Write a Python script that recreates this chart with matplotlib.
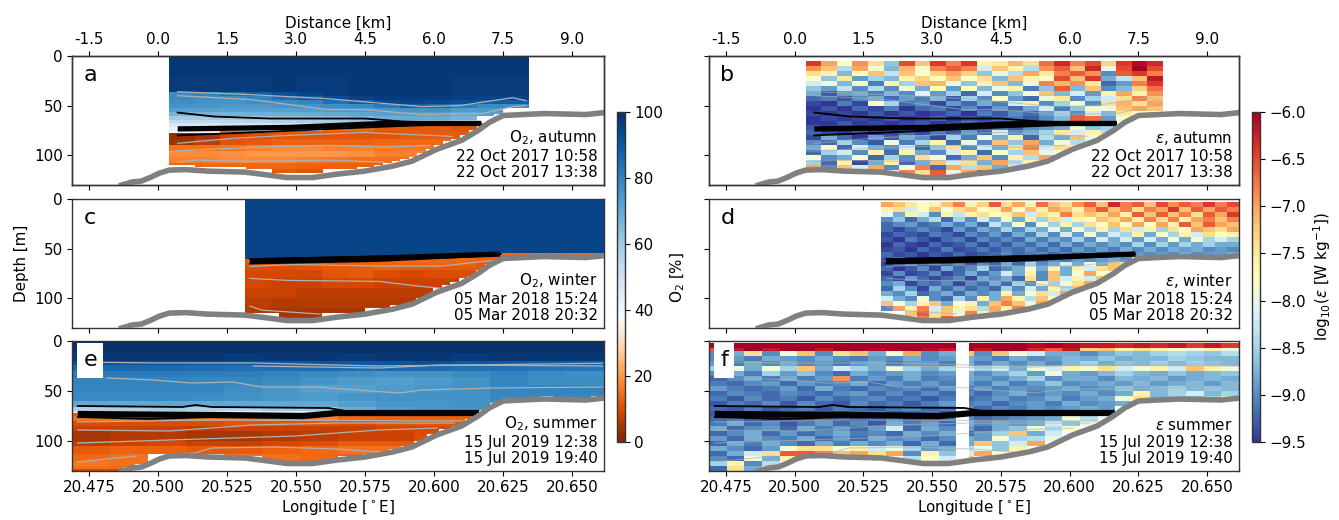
import numpy as np
import matplotlib
matplotlib.use('Agg')
import matplotlib.pyplot as plt
from matplotlib.colors import ListedColormap, Normalize
from matplotlib.cm import ScalarMappable
from matplotlib.patches import Rectangle

nan = np.nan

# seabed along the section
bathy_lon = [20.4868, 20.4905, 20.494, 20.4975, 20.5005, 20.504, 20.510, 20.518, 20.5315, 20.540, 20.5467, 20.556, 20.565, 20.575, 20.585, 20.592, 20.601, 20.610, 20.616, 20.620, 20.625, 20.632, 20.640, 20.655, 20.662]
bathy_dep = [130, 127, 126, 122, 118, 115, 114.5, 116, 117, 120, 122.5, 122.5, 119, 116, 111, 106, 94, 85, 75, 67, 60, 59, 58, 59, 57]

# contour lines, (lon, depth)
autumn_gray = [
    ([20.5071, 20.5339, 20.5613, 20.5956, 20.6093, 20.6285, 20.6333], [36, 39, 43, 51, 50, 42, 45]),
    ([20.5071, 20.5339, 20.5613, 20.575, 20.5956, 20.6175, 20.6285, 20.6333], [40, 44, 54, 54, 59, 58, 51, 50]),
    ([20.5071, 20.527, 20.5476, 20.575, 20.6065], [88, 83, 80, 77, 81]),
    ([20.5044, 20.5339, 20.5613, 20.5818, 20.5983], [96, 92, 90, 92, 90]),
    ([20.5071, 20.5133, 20.5339, 20.5613, 20.5818], [107, 105, 106, 105, 107]),
]
autumn_black = [
    ([20.5071, 20.5202, 20.5407, 20.575, 20.5887, 20.6024], [57, 61, 63, 63, 66, 67]),
    ([20.5071, 20.5339, 20.575, 20.6024], [80, 77, 72, 69]),
]
autumn_thick = ([20.5071, 20.5476, 20.5818, 20.6172], [73.5, 72, 68, 68])

winter_gray = [
    ([20.5333, 20.5497, 20.58, 20.6027, 20.6209], [68, 66, 67.6, 67.6, 62]),
    ([20.5333, 20.5467, 20.58, 20.5951, 20.6027], [80, 82, 83, 88, 90]),
    ([20.5333, 20.5376, 20.5588], [108, 112, 116]),
]
winter_black = [
    ([20.5333, 20.58, 20.6239], [60.5, 58, 55.5]),
    ([20.5333, 20.58, 20.6209], [65, 62.5, 57]),
]
winter_thick = ([20.5333, 20.58, 20.6239], [62.5, 59.5, 55.5])

summer_gray = [
    ([20.4709, 20.4997, 20.5345, 20.58, 20.6103, 20.661], [21, 22, 22, 25, 24, 22.3]),
    ([20.5345, 20.58, 20.6027, 20.661], [25, 27, 24, 25]),
    ([20.4815, 20.4982, 20.5118, 20.527, 20.5376, 20.5573, 20.5876, 20.5951, 20.6224, 20.661], [37, 39, 42, 41, 46, 46, 52, 49, 47, 46]),
    ([20.4709, 20.5194, 20.6103], [81, 79, 80]),
    ([20.4709, 20.5042, 20.5345, 20.5648, 20.6073], [89, 90, 84, 82, 82]),
    ([20.4709, 20.5042, 20.5497, 20.58, 20.6012], [102, 99, 95, 89, 87]),
    ([20.4709, 20.4921], [121, 115]),
    ([20.5042, 20.5133, 20.5194, 20.5421, 20.5648, 20.58], [113, 112, 107, 106, 108, 111]),
]
summer_black = [
    ([20.4709, 20.5088, 20.5136, 20.5194, 20.5618, 20.5679, 20.577], [65, 66, 64, 66, 67, 70, 71]),
    ([20.4709, 20.4967, 20.5194, 20.5527], [76, 78, 76, 76]),
]
summer_thick = ([20.4709, 20.5194, 20.5527, 20.5648, 20.6164], [73, 74, 75, 72, 72])

# oxygen saturation [%], rows follow the depth edges, a short row keeps its last value down the slope
o2_a_lon = [20.504, 20.5133, 20.5226, 20.5319, 20.5412, 20.5505, 20.5598, 20.5691, 20.5784, 20.5877, 20.597, 20.6063, 20.6156, 20.6249, 20.6343]
o2_a_dep = [1, 20, 36, 40, 44, 48, 52, 56, 60, 64, 68, 72, 76, 78, 84, 90, 96, 102, 108, 114, 125]
o2_a = [
    [98, 98, 98, 98, 98, 98, 98, 98, 98, 98, 98, 98, 98, 98],
    [97, 97, 97, 97, 98, 97, 97, 98, 98, 98, 98, 97, 97, 97],
    [78, 80, 84, 88, 92, 95, 97, 98, 98, 98, 98, 97, 97, 97],
    [78, 77, 78, 80, 84, 89, 93, 96, 97, 97, 97, 96, 95, 95],
    [77, 76, 76, 77, 78, 80, 84, 89, 94, 95, 94, 92, 89, 88],
    [76, 75, 74, 74, 75, 76, 77, 78, 82, 88, 86, 82, 78, 77],
    [72, 72, 72, 72, 72, 73, 74, 74, 75, 76, 76, 74, 74, nan],
    [67, 67, 67, 68, 68, 69, 70, 71, 72, 72, 72, 70, 72, nan],
    [60, 60, 60, 61, 62, 63, 64, 66, 68, 69, 69, 67, nan, nan],
    [54, 54, 55, 56, 57, 58, 59, 62, 62, 60, 58, 50, nan, nan],
    [47, 47, 48, 48, 50, 52, 52, 50, 14, 12, 12, 12],
    [42, 40, 40, 40, 42, 42, 15, 14, 12, 12, 12, 11],
    [38, 36, 14, 13, 12, 12, 12, 12, 11, 12, 12],
    [3, 5, 9, 10, 11, 11, 11, 11, 11, 12, 12, 12],
    [4, 7, 11, 12, 13, 13, 13, 13, 14, 14, 14],
    [15, 15, 16, 17, 18, 18, 17, 17, 16, 16],
    [18, 18, 19, 20, 20, 20, 20, 19, 17],
    [17, 17, 18, 18, 18, 17, 16, 15, 15],
    [13, 14, 14, 14, 14, 13, 13, 13],
    [13, 13, 12, 12, 12, 11, 11],
]

o2_c_lon = [20.5315, 20.5408, 20.5501, 20.5594, 20.5687, 20.578, 20.5873, 20.5966, 20.6059, 20.6152, 20.6245, 20.6338, 20.6431, 20.6524, 20.6617]
o2_c_dep = [1, 54, 56, 58, 60, 64, 68, 72, 80, 90, 100, 110, 125]
o2_c = [
    [95, 95, 95, 95, 95, 95, 95, 95, 95, 95, 95, 95, 95, 95],
    [95, 95, 95, 95, 95, 95, 95, 95, 95, 95, 14, 14, 14, 14],
    [95, 95, 95, 95, 95, 95, 14, 14, 14, 13, 13, 13, 13, 13],
    [95, 95, 95, 13, 13, 13, 13, 14, 14, 13, 13, 13, 13, 13],
    [12, 12, 13, 13, 13, 14, 14, 14, 14, 13, 13],
    [11, 11, 12, 12, 13, 13, 13, 13, 13, 12],
    [10, 10, 11, 12, 12, 13, 12, 12, 12, 12],
    [9, 9, 9, 11, 12, 10, 9, 10, 10, 9],
    [9, 8, 8, 9, 9, 8, 8, 8, 8],
    [8, 8, 7, 7, 7, 7, 7, 7],
    [7, 6, 6, 6, 6, 6, 6],
    [6, 5, 5, 5, 5],
]

o2_e_lon = [20.4688, 20.4826, 20.4963, 20.5101, 20.5239, 20.5377, 20.5514, 20.5652, 20.579, 20.5928, 20.6065, 20.6203, 20.6341, 20.6478, 20.6616]
o2_e_dep = [1, 12, 20, 24, 30, 36, 44, 52, 60, 66, 70, 72, 75, 80, 85, 90, 100, 105, 113, 120, 125, 128, 130]
o2_e = [
    [100, 100, 100, 100, 100, 100, 100, 100, 100, 100, 100, 100, 100, 100],
    [98, 98, 98, 98, 97, 98, 98, 97, 98, 98, 97, 98, 98, 98],
    [92, 91, 92, 91, 90, 91, 91, 90, 91, 92, 90, 90, 89, 88],
    [86, 86, 86, 85, 84, 85, 85, 85, 86, 85, 84, 84, 83, 83],
    [82, 82, 82, 81, 81, 80, 78, 77, 76, 76, 78, 80, 78, 77],
    [80, 80, 80, 79, 79, 78, 76, 74, 73, 74, 76, 79, 77, 77],
    [79, 79, 79, 79, 77, 75, 73, 73, 74, 75, 76, 79, 80, 80],
    [78, 78, 78, 77, 76, 75, 74, 75, 76, 76, 76, 79],
    [70, 70, 71, 70, 70, 70, 70, 73, 75, 75, 76],
    [58, 58, 60, 58, 56, 60, 60, 68, 73, 75],
    [48, 50, 48, 46, 44, 45, 46, 20, 14, 13, 12],
    [12, 12, 12, 12, 12, 12, 12, 12, 12, 12, 12],
    [15, 15, 15, 16, 16, 17, 17, 14, 13, 13, 13],
    [10, 10, 10, 10, 11, 11, 11, 10, 11, 11, 11],
    [8, 8, 8, 7, 8, 8, 8, 8, 9, 9],
    [5, 6, 6, 5, 5, 6, 7, 8, 8, 10],
    [7, 8, 9, 8, 8, 9, 10, 12, 12],
    [12, 13, 13, 12, 12, 13, 14, 15],
    [14, 15, nan, 15, 15, 15, 14, 13],
    [16, 15, nan, 14, 14, 13],
    [15, 14, 12],
    [9, 9],
]

# log10(epsilon) times ten, one row per depth bin
eps_b_lon = [20.504, 20.5097, 20.5153, 20.521, 20.5266, 20.5323, 20.5379, 20.5436, 20.5492, 20.5549, 20.5605, 20.5662, 20.5718, 20.5775, 20.5831, 20.5888, 20.5944, 20.6001, 20.6057, 20.6114, 20.617, 20.6227, 20.6283, 20.634]
eps_b_dep = list(range(5, 125, 5))
eps_b = [
    [-64, -70, -78, -69, -74, -86, -65, -72, -64, -68, -64, -76, -75, -71, -74, -67, -63, -68, -65, -73, -64, -61, -63],
    [-69, -72, -84, -70, -79, -87, -71, -79, -68, -66, -68, -82, -72, -76, -84, -69, -66, -72, -63, -80, -65, -60, -65],
    [-74, -76, -87, -77, -72, -83, -72, -78, -73, -70, -73, -86, -80, -84, -70, -75, -68, -66, -69, -90, -66, -64, -68],
    [-78, -86, -75, -89, -85, -87, -76, -73, -77, -72, -78, -74, -87, -72, -76, -78, -65, -72, -64, -88, -83, -72, -62],
    [-82, -80, -87, -79, -91, -76, -85, -72, -71, -80, -86, -76, -72, -87, -80, -68, -71, -69, -75, -92, -89, -68, -64],
    [-86, -89, -83, -90, -84, -90, -79, -88, -77, -89, -77, -87, -80, -76, -91, -86, -66, -87, -72, -90, -87, -73, -67],
    [-88, -93, -89, -88, -91, -87, -90, -81, -89, -85, -92, -82, -90, -86, -79, -72, -87, -82, -89, -76, -70, -76, -69],
    [-92, -91, -93, -90, -88, -92, -89, -91, -87, -93, -85, -90, -78, -89, -92, -80, -75, -90, -85, -82, -74, -68, -72],
    [-94, -95, -91, -94, -78, -85, -92, -90, -94, -89, -92, -88, -91, -82, -76, -90, -85, -79, -90, -74, -71, -74, -70],
    [-95, -93, -95, -92, -94, -91, -95, -92, -91, -94, -90, -93, -89, -92, -88, -82, -91, -86, -78, -80, -72, -70, -72],
    [-94, -95, -94, -95, -93, -95, -93, -95, -94, -92, -95, -91, -93, -90, -92, -89, -85, -90, -82, -87, -75, -78],
    [-95, -94, -95, -94, -95, -93, -95, -94, -92, -95, -93, -94, -92, -91, -93, -90, -87, -66, -67, -89, -78],
    [-95, -95, -93, -95, -94, -95, -94, -93, -95, -94, -92, -93, -94, -92, -90, -92, -89, -87, -90, -85],
    [-93, -95, -94, -95, -94, -95, -93, -95, -94, -93, -94, -92, -91, -93, -90, -89, -88, -79, -86, -85],
    [-92, -94, -95, -93, -95, -94, -92, -94, -91, -93, -89, -92, -82, -90, -88, -85, -75, -82, -76, -84],
    [-94, -88, -92, -95, -89, -93, -88, -90, -94, -85, -91, -80, -88, -76, -92, -84, -88, -72, -80, -84],
    [-90, -92, -85, -90, -93, -79, -91, -85, -76, -92, -80, -90, -72, -86, -70, -88, -79, -84, -76],
    [-88, -79, -92, -82, -88, -90, -82, -92, -86, -74, -90, -82, -88, -74, -68, -82, -74, -78],
    [-92, -85, -82, -90, -76, -92, -76, -88, -90, -82, -76, -92, -79, -85, -72, -80, -78],
    [-79, -90, -88, -79, -92, -85, -90, -74, -79, -92, -88, -72, -90, -76, -84, -70],
    [-85, -92, -76, -94, -88, -76, -92, -88, -72, -82, -74, -88, -70, -84, -76],
    [-70, -90, -72, -82, -70, -90, -79, -68, -92, -70, -84, -72, -88, -74],
    [nan, nan, nan, nan, nan, nan, -68, -74, -66, -80, -70, -64],
]

eps_d_lon = [20.5315, 20.5358, 20.5402, 20.5445, 20.5489, 20.5532, 20.5575, 20.5619, 20.5662, 20.5705, 20.5749, 20.5792, 20.5836, 20.5879, 20.5922, 20.5966, 20.6009, 20.6052, 20.6096, 20.6139, 20.6183, 20.6226, 20.6269, 20.6313, 20.6356, 20.6399, 20.6443, 20.6486, 20.653, 20.6573, 20.6616]
eps_d_dep = list(range(3, 128, 5))
eps_d = [
    [-70, -72, -75, -78, -76, -72, -68, -76, -73, -66, -74, -70, -76, -67, -72, -74, -69, -66, -72, -63, -68, -66, -72, -65, -69, -66, -68, -64, -68, -65],
    [-76, -74, -82, -77, -72, -79, -74, -72, -78, -76, -70, -78, -72, -76, -70, -72, -76, -70, -66, -72, -68, -74, -68, -70, -64, -72, -66, -70, -66, -68],
    [-80, -88, -76, -82, -90, -76, -83, -76, -74, -78, -76, -72, -82, -74, -76, -68, -74, -72, -74, -70, -76, -66, -72, -66, -72, -68, -74, -66, -70, -64],
    [-90, -86, -92, -88, -84, -92, -85, -90, -82, -88, -79, -88, -76, -85, -74, -82, -76, -78, -72, -74, -70, -76, -68, -74, -68, -76, -70, -68, -72, -68],
    [-92, -90, -89, -92, -91, -88, -91, -88, -92, -83, -88, -79, -90, -79, -85, -76, -85, -74, -78, -72, -78, -70, -78, -70, -76, -66, -72, -66, -70, -72],
    [-92, -94, -92, -90, -92, -94, -89, -92, -88, -90, -85, -90, -85, -88, -80, -88, -79, -85, -76, -85, -74, -82, -76, -85, -74, -78, -70, -72, -74, -70],
    [-94, -92, -93, -94, -91, -92, -94, -90, -92, -89, -92, -88, -91, -85, -90, -82, -89, -79, -88, -82, -85, -76, -88, -78, -85, -76, -82, -74, -78, -76],
    [-93, -95, -91, -93, -95, -92, -91, -94, -90, -92, -90, -92, -88, -91, -88, -90, -85, -90, -82, -88, -82, -89, -82, -88, -79, -88, -79, -85, -82, -85],
    [-95, -92, -94, -95, -92, -94, -93, -91, -94, -91, -93, -90, -92, -89, -92, -88, -91, -88, -90, -88, -90, -85, -90, -85, -89, -85, -88, -85, -88, -88],
    [-94, -93, -95, -92, -94, -91, -94, -93, -91, -93, -91, -92, -90, -92, -90, -92, -89, -91, -89, -91, -88, -90, -88, -90, -88, -89, -88, -90, -89, -90],
    [-92, -94, -93, -95, -93, -94, -92, -94, -93, -92, -90, -92, -91, -90, -92, -90, -91, -89, -91, -89, -90, -89, -90, -89, -90, -88, -90, -89, -89, -88],
    [-93, -91, -94, -92, -94, -93, -95, -92, -94, -91, -93, -92, -90, -92, -90, -91, -89, -90, -89, -88, -90],
    [-94, -92, -90, -94, -92, -94, -91, -94, -90, -92, -88, -92, -85, -90, -88, -82, -88, -79, -88, -72, -74, -68],
    [-92, -95, -93, -90, -94, -88, -92, -90, -85, -92, -90, -88, -79, -88, -76, -88, -76, -82, -74, -72],
    [-94, -90, -94, -93, -90, -94, -92, -88, -92, -89, -82, -88, -76, -90, -72, -88, -79, -70, -78],
    [-92, -94, -89, -92, -94, -92, -90, -94, -88, -90, -88, -92, -74, -90, -72, -82, -76, -82, -72],
    [-90, -88, -94, -91, -92, -90, -94, -90, -92, -88, -92, -85, -90, -76, -85, -79, -74, -70],
    [-92, -85, -90, -94, -88, -92, -89, -92, -90, -92, -85, -90, -82, -88, -76, -84, -72],
    [-88, -90, -85, -92, -90, -88, -92, -88, -90, -88, -76, -88, -79, -74, -82, -70],
    [-82, -88, -90, -79, -90, -92, -85, -90, -76, -88, -70, -76, -84, -72, -78],
    [-72, -79, -85, -76, -72, -88, -79, -76, -88, -72, -68, -72, -80, -70],
    [-90, -70, -76, -68, -82, -72, -76, -74, -84, -70, -76, -68, -72],
    [nan, nan, -72, -66, -74, -72, -80, -68, -76, -70, -74],
    [nan, nan, nan, -68, -74, -66, -70, -72],
]

eps_f_lon = [20.4688, 20.4752, 20.4817, 20.4881, 20.4945, 20.5009, 20.5074, 20.5138, 20.5202, 20.5266, 20.5331, 20.5395, 20.5459, 20.5523, 20.5588, 20.5652, 20.5716, 20.578, 20.5845, 20.5909, 20.5973, 20.6037, 20.6102, 20.6166, 20.623, 20.6294, 20.6359, 20.6423, 20.6487, 20.6552, 20.6616]
eps_f_dep = [2, 7, 10] + list(range(15, 135, 5))
eps_f = [
    [-60, -60, -60, -60, -60, -60, -60, -60, -60, -60, -60, -60, -60, -60, -60, -60, -60, -60, -61, -60, -61, -62, -62, -63, -62, -63, -62, -64, -62, -64],
    [-66, -62, -60, -62, -60, -60, -62, -60, -60, -61, -60, -60, -61, -62, -60, -62, -60, -60, -63, -66, -62, -73, -72, -76, -74, -76, -78, -80, -76, -80],
    [-90, -88, -74, -90, -79, -72, -90, -74, -72, -88, -79, -70, -90, -88, -72, -90, -72, -79, -82, -88, -88, -90, -88, -86, -87, -85, -84, -85, -86, -84],
    [-90, -89, -91, -88, -89, -90, -88, -90, -91, -89, -90, -88, -90, -89, -88, -89, -91, -88, -90, -89, -87, -88, -86, -88, -87, -87, -85, -86, -87, -87],
    [-89, -91, -88, -90, -88, -90, -89, -91, -89, -88, -91, -89, -89, -91, -88, -91, -88, -90, -88, -90, -87, -85, -88, -86, -87, -85, -87, -85, -86, -87],
    [-85, -80, -88, -79, -85, -72, -88, -82, -85, -88, -79, -85, -88, -85, -82, -85, -82, -88, -79, -82, -76, -79, -74, -82, -79, -76, -82, -72, -76, -79],
    [-90, -88, -91, -85, -89, -86, -90, -92, -88, -90, -89, -88, -90, -89, -88, -90, -88, -85, -89, -79, -88, -89, -87, -85, -87, -88, -86, -88, -87, -86],
    [-92, -90, -88, -91, -88, -91, -89, -69, -91, -89, -91, -88, -91, -90, -88, -89, -90, -88, -85, -90, -88, -88, -90, -87, -88, -87, -89, -88, -87, -88],
    [-91, -92, -90, -89, -92, -89, -91, -90, -88, -92, -89, -91, -89, -91, -89, -91, -88, -91, -89, -86, -90, -89, -88, -89, -87, -89, -88, -87, -89, -87],
    [-89, -91, -92, -91, -89, -92, -88, -91, -92, -90, -91, -90, -92, -89, -91, -89, -91, -89, -90, -89, -88, -90, -89, -86, -88, -87, -85, -87, -86, -87],
    [-92, -90, -91, -92, -90, -91, -92, -90, -89, -92, -90, -92, -90, -92, -90, -92, -90, -88, -91, -89, -90, -88, -90, -88, -76, -87, -85, -82, -87, -85],
    [-91, -93, -90, -92, -91, -93, -90, -92, -91, -90, -92, -91, -93, -91, -92, -91, -89, -91, -90, -88, -91, -89, -88, -79, -74, -87, -85, -87, -85, -76],
    [-93, -91, -92, -90, -93, -90, -92, -93, -90, -92, -91, -93, -91, -89, -91, -90, -92, -90, -89, -91, -88, -90, -89, -88],
    [-92, -93, -91, -93, -92, -91, -93, -91, -92, -93, -91, -90, -92, -91, -90, -92, -90, -91, -89, -90, -89, -88, -89],
    [-93, -92, -94, -92, -90, -93, -92, -94, -92, -91, -93, -92, -91, -93, -92, -90, -92, -89, -91, -89, -88, -90, -86],
    [-92, -91, -93, -94, -92, -93, -91, -92, -93, -92, -90, -93, -92, -91, -90, -92, -91, -90, -89, -88, -79, -84],
    [-91, -88, -92, -90, -93, -91, -89, -92, -90, -93, -88, -91, -89, -92, -88, -90, -88, -89, -88, -82, -86, -80],
    [-88, -92, -90, -89, -92, -88, -91, -89, -92, -89, -82, -92, -88, -90, -89, -92, -88, -86, -79, -84, -78],
    [-92, -90, -88, -92, -89, -92, -90, -88, -91, -90, -92, -88, -90, -88, -92, -89, -85, -72, -88, -82],
    [-89, -92, -88, -90, -91, -88, -92, -89, -92, -88, -90, -89, -92, -90, -88, -89, -79, -85, -84, -80],
    [-92, -88, -91, -88, -90, -92, -88, -91, -88, -90, -88, -92, -88, -92, -88, -72, -86, -82, -70],
    [-88, -90, -92, -89, -79, -74, -74, -79, -76, -82, -79, -85, -89, -88, -84, -80, -86, -76],
    [-92, -88, -82, -74, -66, -66, -68, -72, -70, -74, -70, -90, -76, -86, -82, -70, -78],
    [-90, -92, -79, -88, -76, nan, nan, nan, nan, nan, nan, -84, -78, -82, -72],
    [-85, -76, -90, -84],
    [-92, -74, -88],
]

panel_letters = ['a', 'b', 'c', 'd', 'e', 'f']
panel_names = ['O$_2$, autumn', r'$\varepsilon$, autumn', 'O$_2$, winter', r'$\varepsilon$, winter', 'O$_2$, summer', r'$\varepsilon$ summer']
date_lines = ['22 Oct 2017 10:58\n22 Oct 2017 13:38', '05 Mar 2018 15:24\n05 Mar 2018 20:32', '15 Jul 2019 12:38\n15 Jul 2019 19:40']
lon_ticks = [20.475, 20.5, 20.525, 20.55, 20.575, 20.6, 20.625, 20.65]
lon_labels = ['20.475', '20.500', '20.525', '20.550', '20.575', '20.600', '20.625', '20.650']
km_labels = ['-1.5', '0.0', '1.5', '3.0', '4.5', '6.0', '7.5', '9.0']

W, H = 1339, 520
plt.rcParams['font.size'] = 10.9
plt.rcParams['axes.edgecolor'] = '#333333'
plt.rcParams['axes.linewidth'] = 1.0

low = plt.get_cmap('Oranges_r')(np.linspace(0, 1, 95))
high = plt.get_cmap('Blues')(np.linspace(0, 1, 161))
o2_cmap = ListedColormap(np.vstack([low, high]))
o2_norm = Normalize(0, 100)
eps_cmap = plt.get_cmap('RdYlBu_r')
eps_norm = Normalize(-9.5, -6.0)


def pad_rows(rows, ncol, keep_last):
    out = []
    for r in rows:
        fill = r[-1] if keep_last else nan
        out.append(list(r) + [fill] * (ncol - len(r)))
    return np.array(out, dtype=float)


def split_edges(edges, nsub):
    edges = np.asarray(edges, dtype=float)
    parts = [np.linspace(edges[i], edges[i + 1], nsub, endpoint=False) for i in range(len(edges) - 1)]
    return np.concatenate(parts + [edges[-1:]])


def draw_section(ax, v, lon_edges, dep_edges, cmap, norm, clear):
    # cells are cut up so the seabed mask steps finer than the data
    v = np.repeat(np.repeat(v, 3, axis=1), 3, axis=0)
    lon_f = split_edges(lon_edges, 3)
    dep_f = split_edges(dep_edges, 3)
    seabed = np.interp(0.5 * (lon_f[:-1] + lon_f[1:]), bathy_lon, bathy_dep, left=131)
    for i in range(v.shape[0]):
        v[i, dep_f[i + 1] > seabed - clear] = nan
    ax.pcolormesh(lon_f, dep_f, np.ma.masked_invalid(v), cmap=cmap, norm=norm, shading='flat', zorder=1)


def make_ax(x0, y0, x1, y1):
    return fig.add_axes([x0 / W, 1 - y1 / H, (x1 - x0) / W, (y1 - y0) / H])


fig = plt.figure(figsize=(W / 100, H / 100), dpi=100)
col_x = [(72, 604), (709, 1239)]
row_y = [(56, 185), (199, 328), (341, 471)]
sections = [
    (o2_a, o2_a_lon, o2_a_dep, 3), (eps_b, eps_b_lon, eps_b_dep, 0),
    (o2_c, o2_c_lon, o2_c_dep, 1), (eps_d, eps_d_lon, eps_d_dep, 0),
    (o2_e, o2_e_lon, o2_e_dep, 1), (eps_f, eps_f_lon, eps_f_dep, 0),
]
lines = [(autumn_gray, autumn_black, autumn_thick), (winter_gray, winter_black, winter_thick), (summer_gray, summer_black, summer_thick)]
xlim = (20.4688, 20.6616)
box_width = {'e': 26, 'f': 20}

for k in range(6):
    r, c = k // 2, k % 2
    ax = make_ax(col_x[c][0], row_y[r][0], col_x[c][1], row_y[r][1])
    vals, lon_e, dep_e, clear = sections[k]
    if c == 0:
        draw_section(ax, pad_rows(vals, len(lon_e) - 1, True), lon_e, dep_e, o2_cmap, o2_norm, clear)
    else:
        draw_section(ax, pad_rows(vals, len(lon_e) - 1, False) / 10, lon_e, dep_e, eps_cmap, eps_norm, clear)
    if k == 5:
        ax.axvspan(20.5585, 20.5635, color='white', zorder=1.5, lw=0)

    gray, black, thick = lines[r]
    for lx, ly in gray:
        ax.plot(lx, ly, color='#b0b0b0', lw=0.9 if c == 0 else 0.8, alpha=1 if c == 0 else 0.6, zorder=2)
    for lx, ly in black:
        ax.plot(lx, ly, color='k', lw=1.3, zorder=3)
    ax.plot(thick[0], thick[1], color='k', lw=3.8 if r != 2 else 4.5, solid_capstyle='butt', zorder=3)
    ax.plot(bathy_lon, bathy_dep, color='#808080', lw=4.0, zorder=4)

    ax.set_xlim(xlim)
    ax.set_ylim(130, 0)
    ax.set_yticks([0, 50, 100])
    ax.set_xticks(lon_ticks)
    ax.tick_params(length=3.5, width=0.8, pad=3)
    if r == 2:
        ax.set_xticklabels(lon_labels)
        ax.set_xlabel(r'Longitude [$^\circ$E]', labelpad=2)
    else:
        ax.set_xticklabels([])
    if c == 1:
        ax.set_yticklabels([])
    if k == 2:
        ax.set_ylabel('Depth [m]')

    letter = panel_letters[k]
    if letter in box_width:
        ax.add_patch(Rectangle((5 / 532, 0.715), box_width[letter] / 532, 0.27, transform=ax.transAxes, facecolor='white', edgecolor='none', zorder=5))
    ax.text(0.0215, 0.85, letter, transform=ax.transAxes, fontsize=16, ha='left', va='center', zorder=6)
    ax.text(0.988, 0.035, panel_names[k] + '\n' + date_lines[r], transform=ax.transAxes, ha='right', va='bottom', linespacing=1.13, zorder=6)

    if r == 0:
        top = ax.twiny()
        top.set_xlim(xlim)
        top.set_xticks(lon_ticks)
        top.set_xticklabels(km_labels)
        top.tick_params(length=3.5, width=0.8, pad=3)
        top.set_xlabel('Distance [km]', labelpad=3)

cax1 = make_ax(617, 112, 625, 442)
cb1 = fig.colorbar(ScalarMappable(norm=o2_norm, cmap=o2_cmap), cax=cax1)
cb1.set_ticks([0, 20, 40, 60, 80, 100])
cb1.set_label('O$_2$ [%]', labelpad=4)
cax2 = make_ax(1252, 112, 1260, 442)
cb2 = fig.colorbar(ScalarMappable(norm=eps_norm, cmap=eps_cmap), cax=cax2)
cb2.set_ticks([-9.5, -9.0, -8.5, -8.0, -7.5, -7.0, -6.5, -6.0])
cb2.set_label(r'log$_{10}$($\varepsilon$ [W kg$^{-1}$])', labelpad=4)
for cb in (cb1, cb2):
    cb.ax.tick_params(length=3.5, width=0.8, pad=3)

fig.savefig('out.png', dpi=100)
